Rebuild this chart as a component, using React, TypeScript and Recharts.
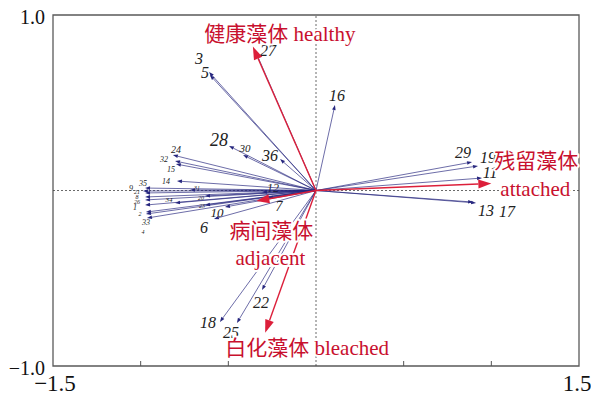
import React from 'react'
import { ScatterChart, Scatter, XAxis, YAxis, ReferenceLine, ReferenceArea } from 'recharts'

// species scores (axis 1, axis 2)
const speciesIds = [
  '1', '2', '3', '4', '5', '6', '7', '8', '9', '10', '11', '12',
  '13', '14', '15', '16', '17', '18', '19', '20', '21', '22', '23', '24',
  '25', '26', '27', '28', '29', '30', '31', '32', '33', '34', '35', '36',
]
const speciesAxis1 = [
  -0.975, -0.97, -0.61, -0.964, -0.605, -0.582, -0.274, -0.975, -0.987, -0.519, 0.947, -0.308,
  0.896, -0.793, -0.799, 0.108, 0.913, -0.548, 0.924, -0.633, -0.975, -0.308, -0.633, -0.816,
  -0.451, -0.975, -0.348, -0.496, 0.89, -0.416, -0.719, -0.804, -0.97, -0.804, -0.975, -0.205,
]
const speciesAxis2 = [
  -0.083, -0.123, 0.675, -0.157, 0.658, -0.162, -0.043, -0.037, -0.003, -0.094, 0.071, -0.009,
  -0.066, 0.054, 0.151, 0.487, -0.071, -0.749, 0.14, -0.031, -0.014, -0.567, -0.083, 0.202,
  -0.755, -0.054, 0.8, 0.254, 0.162, 0.202, 0.003, 0.168, -0.134, -0.071, 0.014, 0.179,
]

// environmental variables
const envKeys = ['healthy', 'attached', 'adjacent', 'bleached']
const envAxis1 = [-0.36, 1.0, -0.34, -0.29]
const envAxis2 = [0.82, 0.04, -0.06, -0.81]

const xTicks = [-1.5, -1, -0.5, 0, 0.5, 1, 1.5]
const yTicks = [-1, 1]

// label placement (px offset from arrow tip) and font size
const speciesLabel: Record<string, [number, number, number]> = {
  '1': [-10, 2, 8], '2': [-6, 2, 6], '3': [-10, -14, 16], '4': [-4, 14, 6],
  '5': [-5, -3, 16], '6': [-10, 9, 16], '7': [11, 8, 14], '8': [-8, 0, 6],
  '9': [-12, -3, 8], '10': [-8, 6, 13], '11': [8, -6, 16], '12': [11, -4, 12],
  '13': [13, 8, 16], '14': [-11, 0, 8], '15': [-5, 6, 8], '16': [2, -10, 16],
  '17': [31, 9, 16], '18': [-12, 1, 16], '19': [10, -8, 16], '20': [-4, 2, 6],
  '21': [-8, -1, 6], '22': [-1, 12, 16], '23': [-3, 1, 6], '24': [3, -6, 10],
  '25': [-6, 9, 16], '26': [-8, 2, 6], '27': [13, 0, 16], '28': [-10, -6, 18],
  '29': [-9, -10, 16], '30': [2, -7, 11], '31': [7, -2, 6], '32': [-11, -2, 8],
  '33': [0, 8, 8], '34': [-6, -3, 7], '35': [-2, -5, 8], '36': [-10, -4, 16],
}
const envLabel: Record<string, { text: string; dx: number; dy: number }[]> = {
  healthy: [{ text: '健康藻体 healthy', dx: 27, dy: -13 }],
  attached: [
    { text: '残留藻体', dx: 45, dy: -22 },
    { text: 'attached', dx: 44, dy: 6 },
  ],
  adjacent: [
    { text: '病间藻体', dx: 15, dy: 30 },
    { text: 'adjacent', dx: 14, dy: 57 },
  ],
  bleached: [{ text: '白化藻体 bleached', dx: 42, dy: 15 }],
}

const SERIF = '"Liberation Serif", "Times New Roman", "Noto Sans CJK SC", serif'
const BLUE = '#26267e'
const RED = '#dc1f3a'
const RED_TEXT = '#c8102e'

const points = speciesIds.map((id, i) => ({ id, x: speciesAxis1[i], y: speciesAxis2[i] }))

function head(x1: number, y1: number, x2: number, y2: number, len: number, half: number) {
  const d = Math.hypot(x2 - x1, y2 - y1) || 1
  const ux = (x2 - x1) / d
  const uy = (y2 - y1) / d
  const bx = x2 - ux * len
  const by = y2 - uy * len
  return {
    bx, by,
    pts: `${x2},${y2} ${bx - uy * half},${by + ux * half} ${bx + uy * half},${by - ux * half}`,
  }
}

const speciesArrow = (id: string) => (p: any) => {
  const { x1, y1, x2, y2 } = p
  const h = head(x1, y1, x2, y2, 5, 1.8)
  const [dx, dy, fs] = speciesLabel[id]
  return (
    <g>
      <line x1={x1} y1={y1} x2={h.bx} y2={h.by} stroke={BLUE} strokeWidth={0.8} strokeOpacity={0.85} />
      <polygon points={h.pts} fill={BLUE} />
      <text x={x2 + dx} y={y2 + dy} fontSize={fs} fontStyle="italic" fontFamily={SERIF}
        fill="#222" textAnchor="middle" dominantBaseline="central">{id}</text>
    </g>
  )
}

const envArrow = () => (p: any) => {
  const { x1, y1, x2, y2 } = p
  const h = head(x1, y1, x2, y2, 13, 4.5)
  return (
    <g>
      <line x1={x1} y1={y1} x2={h.bx} y2={h.by} stroke={RED} strokeWidth={1.4} />
      <polygon points={h.pts} fill={RED} />
    </g>
  )
}

const envText = (key: string) => (p: any) => {
  const { x2, y2 } = p
  return (
    <g>
      {envLabel[key].map((l) => (
        <text key={l.text} x={x2 + l.dx} y={y2 + l.dy} fontSize={21} fontFamily={SERIF}
          fill={RED_TEXT} textAnchor="middle" dominantBaseline="central"
          stroke="#fff" strokeWidth={4} paintOrder="stroke" strokeLinejoin="round">{l.text}</text>
      ))}
    </g>
  )
}

const XTick = (p: any) => {
  const { x, y, payload } = p
  const v = payload.value
  if (Math.abs(v) === 1.5) {
    return (
      <text x={v < 0 ? x + 2 : x - 2} y={y + 25} fontSize={23} fontFamily={SERIF} fill="#111" textAnchor="middle">
        {v < 0 ? '\u22121.5' : '1.5'}
      </text>
    )
  }
  if (v === 0) return <g />
  return <line x1={x} x2={x} y1={y} y2={y - 5} stroke="#555" strokeWidth={1} />
}

const YTick = (p: any) => {
  const { x, y, payload } = p
  return (
    <text x={x - 8} y={y + 9} fontSize={20} fontFamily={SERIF} fill="#111" textAnchor="end">
      {payload.value < 0 ? '\u22121.0' : '1.0'}
    </text>
  )
}

export default function App() {
  return (
    <div style={{ position: 'absolute', left: 0, top: 0, background: '#fff' }}>
      <ScatterChart width={591} height={398} margin={{ top: 15, right: 12, left: 0, bottom: 0 }}>
        <XAxis type="number" dataKey="x" domain={[-1.5, 1.5]} ticks={xTicks} height={32}
          axisLine={false} tickLine={false} tickSize={0} tickMargin={0} tick={XTick} allowDataOverflow />
        <YAxis type="number" dataKey="y" domain={[-1, 1]} ticks={yTicks} width={53}
          axisLine={false} tickLine={false} tickSize={0} tickMargin={0} tick={YTick} allowDataOverflow />
        <ReferenceArea x1={-1.5} x2={1.5} y1={-1} y2={1} fill="none" stroke="#5a5a5a" strokeWidth={1.3} />
        <ReferenceLine x={0} stroke="#444" strokeDasharray="2 2" strokeWidth={0.8} />
        <ReferenceLine y={0} stroke="#444" strokeDasharray="2 2" strokeWidth={0.8} />
        <Scatter data={points} shape={() => <g />} isAnimationActive={false} />
        {points.map((pt) => (
          <ReferenceLine key={'s' + pt.id} segment={[{ x: 0, y: 0 }, { x: pt.x, y: pt.y }]}
            shape={speciesArrow(pt.id)} />
        ))}
        {envKeys.map((k, i) => (
          <ReferenceLine key={'e' + k} segment={[{ x: 0, y: 0 }, { x: envAxis1[i], y: envAxis2[i] }]}
            shape={envArrow()} />
        ))}
        {envKeys.map((k, i) => (
          <ReferenceLine key={'t' + k} segment={[{ x: 0, y: 0 }, { x: envAxis1[i], y: envAxis2[i] }]}
            shape={envText(k)} />
        ))}
      </ScatterChart>
    </div>
  )
}
